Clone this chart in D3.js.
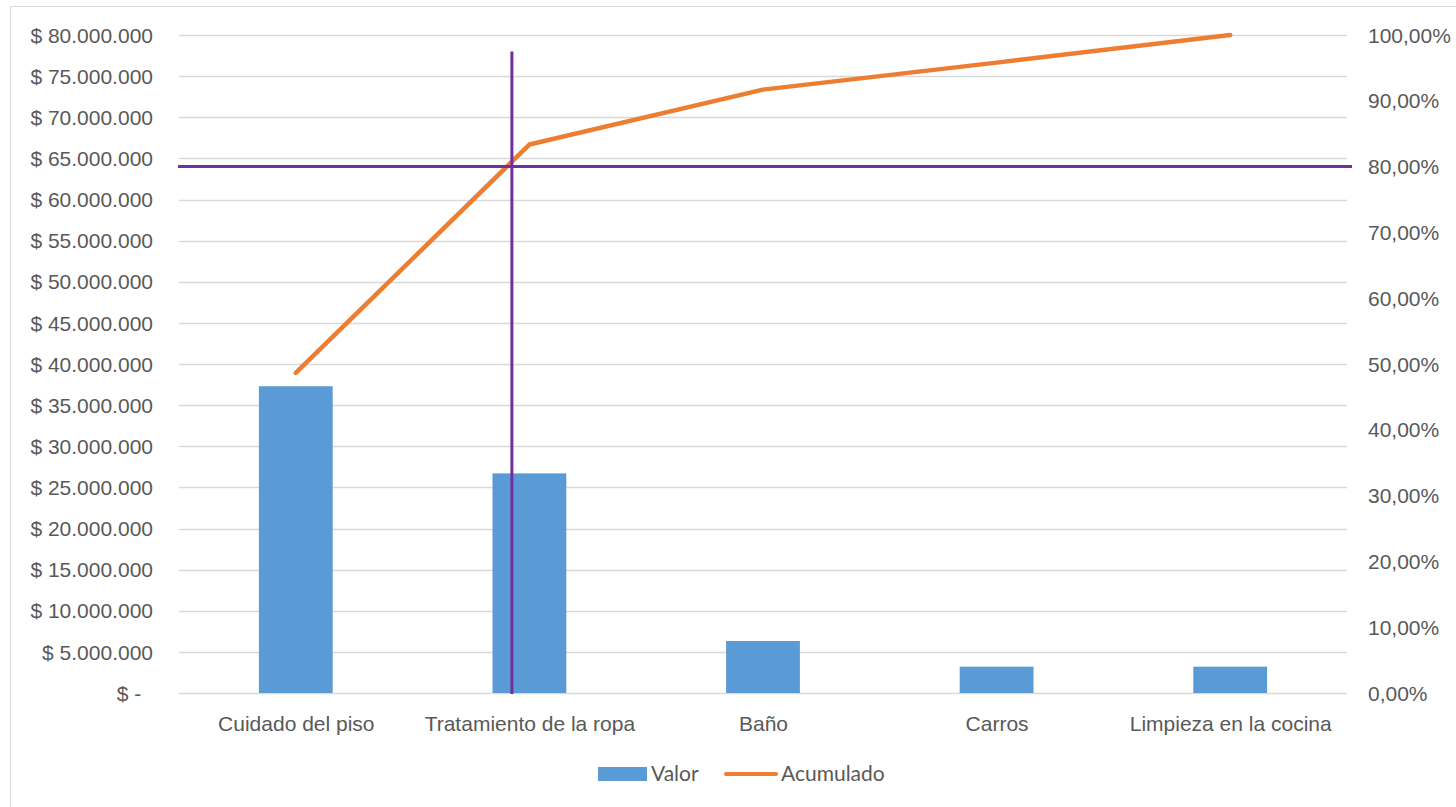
<!DOCTYPE html>
<html>
<head>
<meta charset="utf-8">
<script src="https://cdn.jsdelivr.net/npm/d3@7"></script>
<style>
  html, body { margin: 0; padding: 0; background: #ffffff; }
  svg { display: block; font-family: Lato, "Open Sans", sans-serif; }
</style>
</head>
<body>
<svg id="chart" width="1456" height="807"></svg>
<script>
// ---- data ----
const categories = ["Cuidado del piso", "Tratamiento de la ropa", "Baño", "Carros", "Limpieza en la cocina"];
const valor = [37300000, 26700000, 6320000, 3200000, 3200000];
const acumulado = [0.4865, 0.8335, 0.917, 0.958, 1.0];
const leftTicks = [0, 5000000, 10000000, 15000000, 20000000, 25000000, 30000000, 35000000, 40000000,
                   45000000, 50000000, 55000000, 60000000, 65000000, 70000000, 75000000, 80000000];
const rightTicks = [0, 0.1, 0.2, 0.3, 0.4, 0.5, 0.6, 0.7, 0.8, 0.9, 1.0];
const seriesNames = ["Valor", "Acumulado"];
const refPct = 0.8;            // horizontal reference line (80 %)
const refCatPos = 0.925;       // vertical reference line, in category units from the first category
const refTopValue = 78000000;  // top of vertical reference line on left axis

// ---- layout ----
const svg = d3.select("#chart");
const plot = { left: 179, right: 1347, top: 35, bottom: 693 };
const textColor = "#595959";
const gridColor = "#D9D9D9";
const blue = "#5B9BD5", orange = "#ED7D31", purple = "#7030A0";
const fs = "21px";

// chart border (only top/left visible in reference)
svg.append("rect").attr("x", 10.5).attr("y", 6.5).attr("width", 1460).attr("height", 810)
  .attr("fill", "none").attr("stroke", "#D9D9D9").attr("stroke-width", 1);

const x = d3.scalePoint().domain(categories).range([plot.left, plot.right]).padding(0.5);
const step = x.step();
const yL = d3.scaleLinear().domain([0, 80000000]).range([plot.bottom, plot.top]);
const yR = d3.scaleLinear().domain([0, 1]).range([plot.bottom, plot.top]);

// gridlines
svg.append("g").selectAll("line").data(leftTicks).join("line")
  .attr("x1", plot.left).attr("x2", plot.right)
  .attr("y1", d => Math.round(yL(d)) + 0.5).attr("y2", d => Math.round(yL(d)) + 0.5)
  .attr("stroke", gridColor).attr("stroke-width", 1.3);

// left axis
const fmtMoney = d => d === 0 ? "$ -\u00a0\u00a0" : "$ " + d3.format(",")(d).replace(/,/g, ".");
const leftAxis = svg.append("g").attr("transform", `translate(${plot.left},0)`)
  .call(d3.axisLeft(yL).tickValues(leftTicks).tickFormat(fmtMoney).tickSize(0).tickPadding(26));
leftAxis.select(".domain").remove();
leftAxis.selectAll("text").attr("fill", textColor).style("font-size", fs).attr("dy", "0.34em");

// right axis
const fmtPct = d => d3.format(".2f")(d * 100).replace(".", ",") + "%";
const rightAxis = svg.append("g").attr("transform", `translate(${plot.right},0)`)
  .call(d3.axisRight(yR).tickValues(rightTicks).tickFormat(fmtPct).tickSize(0).tickPadding(21));
rightAxis.select(".domain").remove();
rightAxis.selectAll("text").attr("fill", textColor).style("font-size", fs).attr("dy", "0.34em");

// bottom axis
const bottomAxis = svg.append("g").attr("transform", `translate(0,${plot.bottom})`)
  .call(d3.axisBottom(x).tickSize(0).tickPadding(23));
bottomAxis.select(".domain").remove();
bottomAxis.selectAll("text").attr("fill", textColor).style("font-size", fs);

// bars
const barW = step * 0.316;
svg.append("g").selectAll("rect").data(categories).join("rect")
  .attr("x", (d) => x(d) - barW / 2)
  .attr("y", (d, i) => yL(valor[i]))
  .attr("width", barW)
  .attr("height", (d, i) => yL(0) - yL(valor[i]))
  .attr("fill", blue);

// cumulative line
const line = d3.line().x((d, i) => x(categories[i])).y(d => yR(d));
svg.append("path").datum(acumulado).attr("d", line)
  .attr("fill", "none").attr("stroke", orange).attr("stroke-width", 4.5)
  .attr("stroke-linejoin", "round").attr("stroke-linecap", "round");

// reference lines
svg.append("line")
  .attr("x1", plot.left - 1).attr("x2", plot.right + 5)
  .attr("y1", yR(refPct)).attr("y2", yR(refPct))
  .attr("stroke", purple).attr("stroke-width", 3);
const vx = x(categories[0]) + refCatPos * step;
svg.append("line")
  .attr("x1", vx).attr("x2", vx)
  .attr("y1", yL(refTopValue)).attr("y2", yL(0) + 1)
  .attr("stroke", purple).attr("stroke-width", 3);

// legend
const lg = svg.append("g").style("font-size", fs).attr("fill", textColor);
lg.append("rect").attr("x", 598).attr("y", 767).attr("width", 49).attr("height", 14).attr("fill", blue);
lg.append("text").attr("x", 651).attr("y", 774).attr("dy", "0.34em").text(seriesNames[0]);
lg.append("line").attr("x1", 726).attr("x2", 776).attr("y1", 774).attr("y2", 774)
  .attr("stroke", orange).attr("stroke-width", 4).attr("stroke-linecap", "round");
lg.append("text").attr("x", 781).attr("y", 774).attr("dy", "0.34em").text(seriesNames[1]);
</script>
</body>
</html>
